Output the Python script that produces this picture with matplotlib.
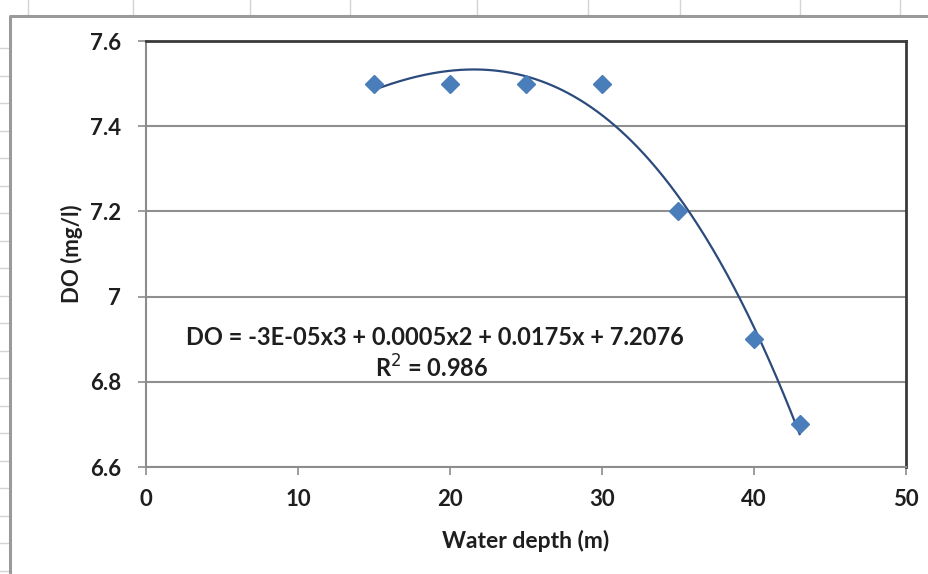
import numpy as np
import matplotlib
matplotlib.use("Agg")
import matplotlib.pyplot as plt
from matplotlib.lines import Line2D

plt.rcParams['font.family'] = ['Lato', 'DejaVu Sans']

# Measured dissolved oxygen against water depth
depth = [15, 20, 25, 30, 35, 40, 43]
do_mg_l = [7.5, 7.5, 7.5, 7.5, 7.2, 6.9, 6.7]

x_ticks = [0, 10, 20, 30, 40, 50]
y_ticks = [6.6, 6.8, 7.0, 7.2, 7.4, 7.6]
y_tick_labels = ["6.6", "6.8", "7", "7.2", "7.4", "7.6"]

equation_text = "DO = -3E-05x3 + 0.0005x2 + 0.0175x + 7.2076"
r2_text = "R$^2$ = 0.986"

W, H = 929, 574
fig = plt.figure(figsize=(W / 100, H / 100), dpi=100)
fig.patch.set_facecolor("white")

# Worksheet cell lines behind the chart object
col_x = [28, 133, 250, 350, 477, 588, 680, 800, 900]
for cx in col_x:
    fig.add_artist(Line2D([cx / W, cx / W], [1, 1 - 15 / H], transform=fig.transFigure,
                          color="#d4d4d4", lw=1.0))
row_y = np.arange(48, 574, 27.5)
for ry in row_y:
    fig.add_artist(Line2D([0, 9 / W], [1 - ry / H, 1 - ry / H], transform=fig.transFigure,
                          color="#d4d4d4", lw=1.0))
# Chart object border
fig.add_artist(Line2D([10 / W, 10 / W, 1], [0, 1 - 16 / H, 1 - 16 / H], transform=fig.transFigure,
                      color="#9a9a9a", lw=2.2))

left, right = 146 / W, 906 / W
top, bottom = 1 - 41 / H, 1 - 467 / H
ax = fig.add_axes([left, bottom, right - left, top - bottom])

ax.set_xlim(0, 50)
ax.set_ylim(6.6, 7.6)
ax.set_xticks(x_ticks)
ax.set_yticks(y_ticks)
ax.set_xticklabels([str(t) for t in x_ticks])
ax.set_yticklabels(y_tick_labels)

for lab in ax.get_xticklabels() + ax.get_yticklabels():
    lab.set_fontweight("bold")
    lab.set_fontsize(16)
    lab.set_color("#1e1e1e")

ax.tick_params(axis="both", direction="out", length=6, width=1.2, color="#8c8c8c")
ax.tick_params(axis="x", pad=10)
ax.tick_params(axis="y", pad=12)

ax.grid(axis="y", color="#8f8f8f", lw=1.5)
ax.set_axisbelow(True)

for side in ("left", "bottom"):
    ax.spines[side].set_color("#8c8c8c")
    ax.spines[side].set_linewidth(1.5)
for side in ("top", "right"):
    ax.spines[side].set_color("#3a3a3a")
    ax.spines[side].set_linewidth(2.0)

# Third-order polynomial trendline fitted to the measurements
coef = np.polyfit(depth, do_mg_l, 3)
xs = np.linspace(min(depth), max(depth), 300)
ax.plot(xs, np.polyval(coef, xs), color="#2c4a7c", lw=1.6, zorder=3)

ax.plot(depth, do_mg_l, linestyle="none", marker="D", markersize=9.5,
        color="#4a7ebb", markeredgecolor="#4a7ebb", zorder=4)

ax.text(19.0, 6.903, equation_text, ha="center", va="center",
        fontsize=17, fontweight="bold", color="#1e1e1e")
ax.text(18.8, 6.832, r2_text, ha="center", va="center",
        fontsize=17, fontweight="bold", color="#1e1e1e")

ax.set_xlabel("Water depth (m)", fontsize=16.5, fontweight="bold", color="#1e1e1e", labelpad=14)
ax.set_ylabel("DO (mg/l)", fontsize=16, fontweight="bold", color="#1e1e1e", labelpad=5)

fig.savefig("out.png", dpi=100, facecolor="white")
